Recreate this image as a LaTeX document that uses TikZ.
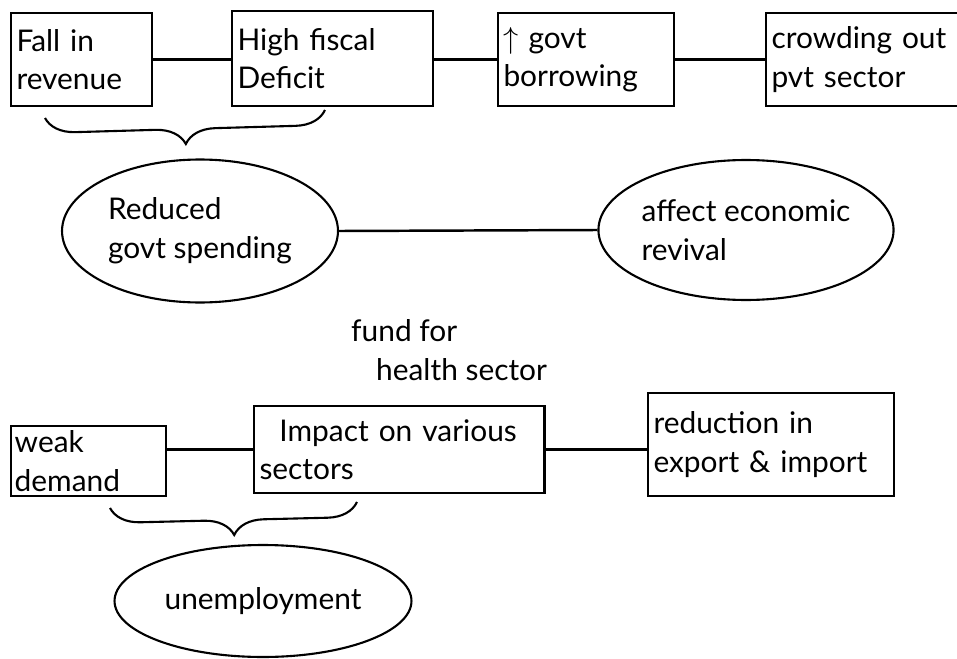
\documentclass[tikz,border=0pt]{standalone}
\usepackage{amsmath}
\usepackage{fontspec}
\setmainfont{Lato}
\usetikzlibrary{shapes.geometric,decorations.pathreplacing}

\begin{document}
\begin{tikzpicture}[x=0.02cm,y=-0.02cm,
	every node/.style={font=\fontsize{17}{22}\selectfont},
	box/.style={draw,line width=1.4pt,anchor=north west,align=left,inner sep=3pt},
	oval/.style={draw,ellipse,line width=1.2pt,align=left,inner sep=0pt},
	link/.style={line width=1.4pt},
	curly/.style={line width=1.2pt,decorate,decoration={brace,mirror,amplitude=0.6cm}}]
\clip (0,0) rectangle (957,659);

\node[box,text width=2.6cm,minimum height=1.86cm] (fall) at (10,12) {Fall in\\revenue};
\node[box,text width=3.8cm,minimum height=1.9cm] (deficit) at (231,10) {High fiscal\\Deficit};
\node[box,text width=3.3cm,minimum height=1.86cm] (borrow) at (497,12) {$\uparrow$ govt\\borrowing};
\node[box,text width=4cm,minimum height=1.86cm] (crowd) at (765,12) {crowding out\\pvt sector};
\draw[link] (fall.east) -- (deficit.west |- fall.east);
\draw[link] (deficit.east |- borrow.west) -- (borrow.west);
\draw[link] (borrow.east) -- (crowd.west);

\coordinate (b1l) at (45,118);
\coordinate (b1r) at (325,110);
\draw[curly] (b1l) -- (b1r);

\node[oval,minimum width=5.52cm,minimum height=2.86cm] (spend) at (200,231) {Reduced\\govt spending};
\node[oval,minimum width=4.96cm,minimum height=2.8cm] (revival) at (746,230) {affect economic\\revival};
\draw[link] (spend.east) -- (revival.west);

\node[align=left,anchor=west] (fund) at (345,350) {fund for\\\hspace{0.5cm}health sector};

\node[box,text width=2.95cm,minimum height=1.4cm,inner sep=2pt] (weak) at (10,425) {weak\\demand};
\node[box,text width=5.6cm,minimum height=1.74cm] (impact) at (253,405) {\hspace{0.4cm}Impact on various\\sectors};
\node[box,text width=4.7cm,minimum height=2.06cm] (reduce) at (647,392) {reduction in\\export \& import};
\draw[link] (impact.west) -- (impact.west -| weak.east);
\draw[link] (impact.east) -- (impact.east -| reduce.west);

\coordinate (b2l) at (110,508);
\coordinate (b2r) at (357,502);
\draw[curly] (b2l) -- (b2r);

\node[oval,minimum width=5.94cm,minimum height=2.24cm] (unemp) at (263,601) {unemployment};
\end{tikzpicture}
\end{document}
